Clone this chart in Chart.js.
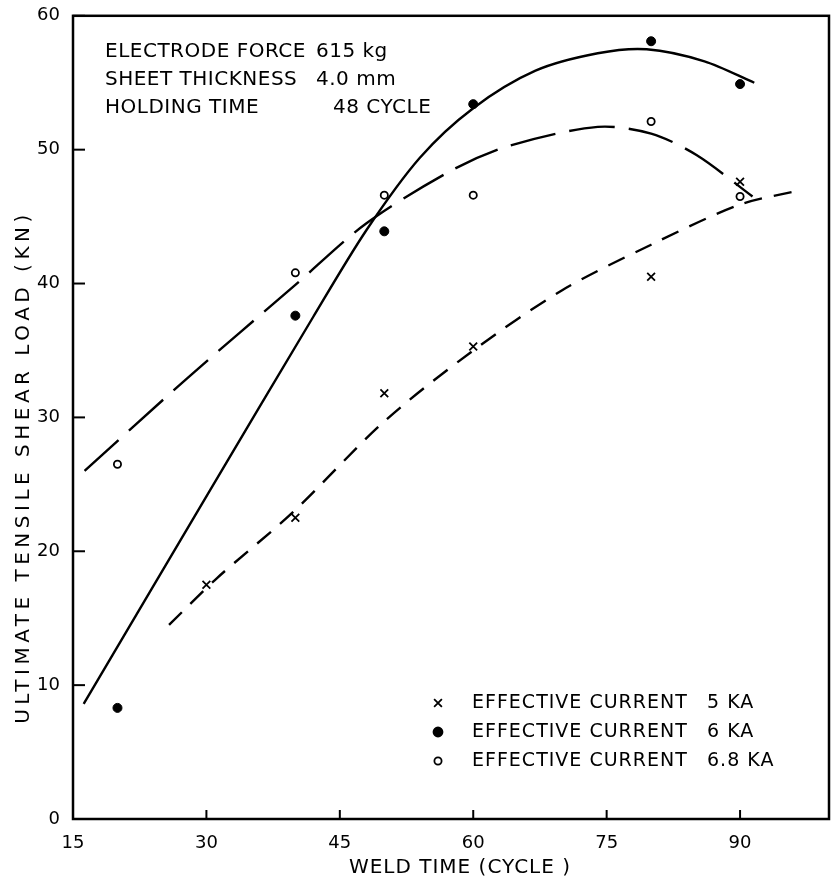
<!DOCTYPE html>
<html>
<head>
<meta charset="utf-8">
<script src="https://cdn.jsdelivr.net/npm/chart.js@4.4.0/dist/chart.umd.min.js"></script>
<style>
  html, body { margin: 0; padding: 0; background: #fff; }
  #wrap { width: 837px; height: 882px; position: relative; }
</style>
</head>
<body>
<div id="wrap"><canvas id="weldChart"></canvas></div>
<script>
// measured points
var time5 = [30, 40, 50, 60, 80, 90];
var load5 = [17.5, 22.5, 31.8, 35.3, 40.5, 47.6];
var time6 = [20, 40, 50, 60, 80, 90];
var load6 = [8.3, 37.6, 43.9, 53.4, 58.1, 54.9];
var time68 = [20, 40, 50, 60, 80, 90];
var load68 = [26.5, 40.8, 46.6, 46.6, 52.1, 46.5];

// fitted curves
var fit5x = [25.8, 31.2, 39.7, 50, 60, 70, 80, 90, 97];
var fit5y = [14.5, 18.0, 22.9, 29.7, 35.0, 39.5, 42.9, 45.9, 47.0];
var fit6x = [16.2, 30, 42, 48, 54, 60, 67, 74, 79.5, 86, 91.6];
var fit6y = [8.6, 24.1, 37.5, 44.0, 49.4, 53.1, 55.9, 57.2, 57.5, 56.6, 55.0];
var fit68x = [16.3, 27.8, 40, 48, 57.7, 64.1, 74, 80, 85.1, 91.4];
var fit68y = [26.0, 32.9, 39.9, 44.5, 48.5, 50.3, 51.7, 51.2, 49.6, 46.5];

var xTicks = [15, 30, 45, 60, 75, 90];
var yTicks = [0, 10, 20, 30, 40, 50, 60];

var noteNames = ['ELECTRODE FORCE', 'SHEET THICKNESS', 'HOLDING TIME'];
var noteValues = ['615 kg', '4.0 mm', '48 CYCLE'];
var legendNames = ['EFFECTIVE CURRENT', 'EFFECTIVE CURRENT', 'EFFECTIVE CURRENT'];
var legendValues = ['5 KA', '6 KA', '6.8 KA'];
var legendMarks = ['crossRot', 'circle', 'circle'];
var legendFills = ['#000', '#000', '#fff'];

function pairs(xs, ys) {
  return xs.map(function (x, i) { return { x: x, y: ys[i] }; });
}

var FONT = '"DejaVu Sans", sans-serif';

var decor = {
  id: 'decor',
  afterDatasetsDraw: function (chart) {
    var ctx = chart.ctx;
    var a = chart.chartArea;
    var xs = chart.scales.x, ys = chart.scales.y;
    ctx.save();
    ctx.strokeStyle = '#000';
    ctx.lineWidth = 2.5;
    ctx.strokeRect(a.left, a.top, a.right - a.left, a.bottom - a.top);

    // inward tick marks
    ctx.lineWidth = 2;
    xTicks.forEach(function (v) {
      var px = xs.getPixelForValue(v);
      ctx.beginPath(); ctx.moveTo(px, a.bottom); ctx.lineTo(px, a.bottom - 9); ctx.stroke();
    });
    yTicks.forEach(function (v) {
      var py = ys.getPixelForValue(v);
      ctx.beginPath(); ctx.moveTo(a.left, py); ctx.lineTo(a.left + 12, py); ctx.stroke();
    });

    ctx.fillStyle = '#000';
    ctx.textBaseline = 'middle';
    ctx.textAlign = 'left';
    ctx.font = '20px ' + FONT;
    ctx.letterSpacing = '0.5px';
    noteNames.forEach(function (t, i) {
      var y = 52 + i * 28;
      ctx.fillText(t, 105, y);
      ctx.fillText(noteValues[i], i == 2 ? 333 : 316, y);
    });

    ctx.font = '19px ' + FONT;
    ctx.letterSpacing = '1px';
    legendNames.forEach(function (t, i) {
      var y = 703 + i * 29;
      ctx.fillText(t, 472, y);
      ctx.fillText(legendValues[i], 707, y);
      ctx.fillStyle = legendFills[i];
      ctx.strokeStyle = '#000';
      ctx.lineWidth = 1.8;
      Chart.helpers.drawPoint(ctx, { pointStyle: legendMarks[i], radius: i == 0 ? 5.5 : (i == 1 ? 4.5 : 3.6), rotation: 0, borderWidth: 1.8 }, 438, y);
      ctx.fillStyle = '#000';
    });

    // axis titles
    ctx.textAlign = 'center';
    ctx.font = '20px ' + FONT;
    ctx.letterSpacing = '1px';
    ctx.fillText('WELD TIME (CYCLE )', 460, 868);
    ctx.translate(24, 467);
    ctx.rotate(-Math.PI / 2);
    ctx.letterSpacing = '4.5px';
    ctx.fillText('ULTIMATE TENSILE SHEAR LOAD (KN)', 0, 0);
    ctx.restore();
  }
};

var canvas = document.getElementById('weldChart');
new Chart(canvas, {
  type: 'scatter',
  data: {
    datasets: [
      { label: 'fit 5', data: pairs(fit5x, fit5y), showLine: true, borderColor: '#000', borderWidth: 2.4,
        borderDash: [18, 12], pointRadius: 0, tension: 0.3, fill: false },
      { label: 'fit 6', data: pairs(fit6x, fit6y), showLine: true, borderColor: '#000', borderWidth: 2.4,
        pointRadius: 0, tension: 0.3, fill: false },
      { label: 'fit 6.8', data: pairs(fit68x, fit68y), showLine: true, borderColor: '#000', borderWidth: 2.4,
        borderDash: [46, 14], pointRadius: 0, tension: 0.3, fill: false },
      { label: '5 KA', data: pairs(time5, load5), pointStyle: 'crossRot', pointRadius: 5.5,
        borderColor: '#000', borderWidth: 1.8 },
      { label: '6 KA', data: pairs(time6, load6), pointStyle: 'circle', pointRadius: 4.5,
        backgroundColor: '#000', borderColor: '#000', borderWidth: 1 },
      { label: '6.8 KA', data: pairs(time68, load68), pointStyle: 'circle', pointRadius: 3.6,
        backgroundColor: '#fff', borderColor: '#000', borderWidth: 1.8 }
    ]
  },
  options: {
    responsive: true,
    maintainAspectRatio: false,
    animation: false,
    layout: { padding: { top: 14, right: 8, left: 0, bottom: 0 } },
    plugins: { legend: { display: false }, tooltip: { enabled: false } },
    scales: {
      x: {
        type: 'linear', min: 15, max: 100,
        afterFit: function (s) { s.height = 63; },
        afterBuildTicks: function (s) { s.ticks = xTicks.map(function (v) { return { value: v }; }); },
        grid: { display: false }, border: { display: false },
        ticks: { color: '#000', padding: 6, font: { family: FONT, size: 18 } }
      },
      y: {
        min: 0, max: 60,
        afterFit: function (s) { s.width = 73; },
        afterBuildTicks: function (s) { s.ticks = yTicks.map(function (v) { return { value: v }; }); },
        grid: { display: false }, border: { display: false },
        ticks: { color: '#000', padding: 5, font: { family: FONT, size: 18 } }
      }
    }
  },
  plugins: [decor]
});
</script>
</body>
</html>
